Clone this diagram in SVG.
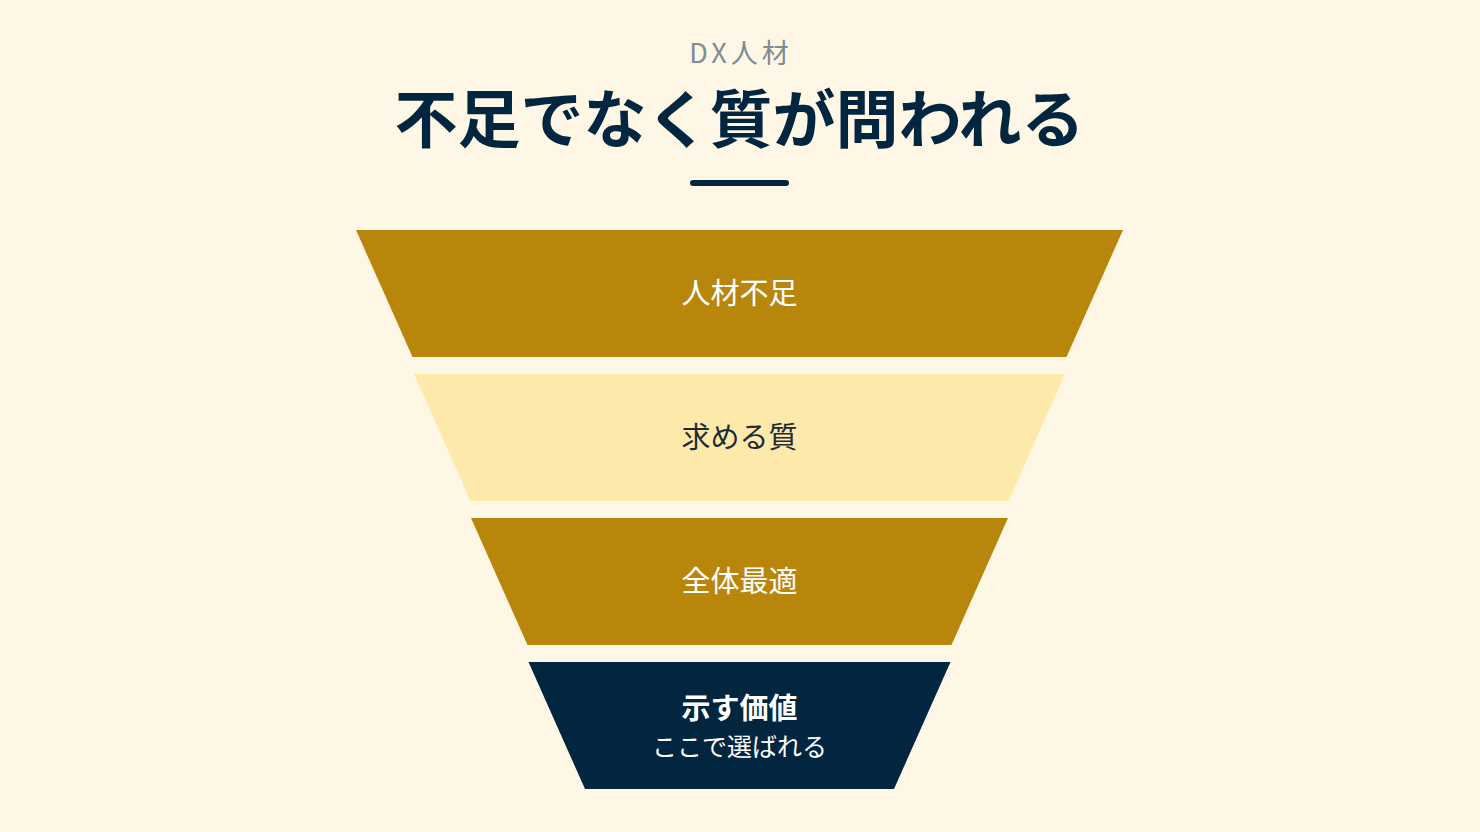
<svg xmlns="http://www.w3.org/2000/svg" width="1480" height="832" viewBox="0 0 1480 832">
<style>
.t{font-family:"Noto Sans CJK JP","Noto Sans",sans-serif;text-anchor:middle;dominant-baseline:central}
.gold{fill:#B8860B}
.light{fill:#FDE9AA}
.navy{fill:#032640}
.lab{font-size:29px}
</style>
<rect width="1480" height="832" fill="#FEF7E6"/>
<g id="header">
<text class="t" x="741" y="51" font-size="27" fill="#7C8C93" letter-spacing="4">DX人材</text>
<text class="t" x="739.5" y="114" font-size="63" font-weight="bold" fill="#032640">不足でなく質が問われる</text>
<line x1="693" y1="183" x2="786" y2="183" stroke="#032640" stroke-width="6" stroke-linecap="round"/>
</g>
<g id="level1">
<polygon class="gold" points="356,230 1123,230 1066.5,357 412.5,357"/>
<text class="t lab" x="739.5" y="291" fill="#FFFFFF">人材不足</text>
</g>
<g id="level2">
<polygon class="light" points="414,374 1065,374 1008.5,501 470.5,501"/>
<text class="t lab" x="739.5" y="435" fill="#1E2B36">求める質</text>
</g>
<g id="level3">
<polygon class="gold" points="471,518 1008,518 951.5,645 527.5,645"/>
<text class="t lab" x="739.5" y="579" fill="#FFFFFF">全体最適</text>
</g>
<g id="level4">
<polygon class="navy" points="528.5,662 950.5,662 894,789 585,789"/>
<text class="t" x="739.5" y="706" font-size="29" font-weight="bold" fill="#FFFFFF">示す価値</text>
<text class="t" x="739.5" y="745" font-size="25" fill="#FFFFFF">ここで選ばれる</text>
</g>
<g id="connectors"/>
</svg>
